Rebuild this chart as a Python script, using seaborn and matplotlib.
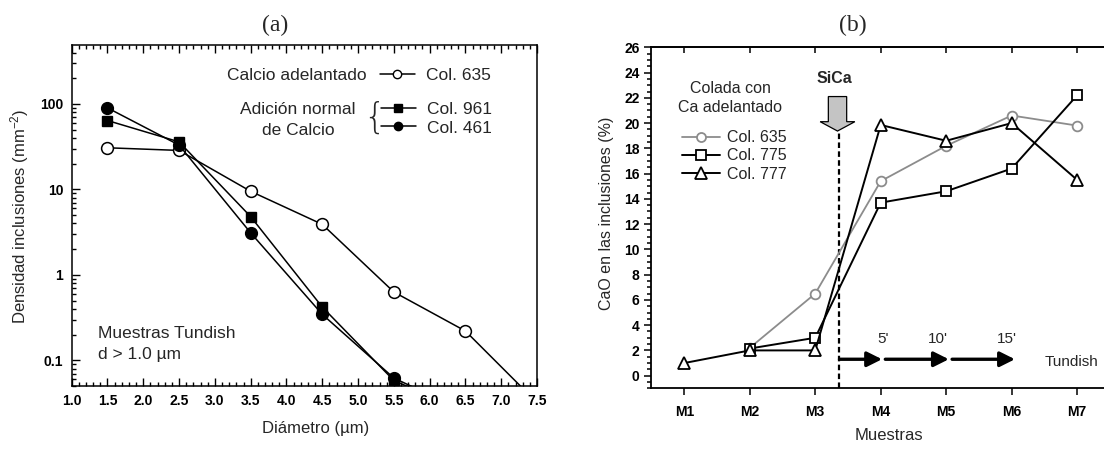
import matplotlib
matplotlib.use('Agg')
import matplotlib.pyplot as plt
import seaborn as sns
from matplotlib.patches import FancyArrow
from matplotlib.lines import Line2D
from matplotlib.ticker import MultipleLocator, FixedLocator, NullFormatter, FormatStrFormatter, LogLocator

# ---- data, panel (a): inclusion density vs diameter (log scale)
diam_635 = [1.5, 2.5, 3.5, 4.5, 5.5, 6.5, 7.5]
dens_635 = [30.7, 28.6, 9.5, 3.9, 0.63, 0.22, 0.032]
diam_normal = [1.5, 2.5, 3.5, 4.5, 5.5, 6.5]
dens_961 = [64, 36, 4.8, 0.42, 0.058, 0.025]
dens_461 = [90, 33, 3.1, 0.345, 0.062, 0.025]
dens_ticks = [0.1, 1, 10, 100]
dens_ticklabels = ['0.1', '1', '10', '100']

# ---- data, panel (b): CaO in inclusions per sample
muestras = ['M1', 'M2', 'M3', 'M4', 'M5', 'M6', 'M7']
pos_635 = [1, 2, 3, 4, 5, 6]
cao_635 = [2.2, 6.5, 15.4, 18.2, 20.6, 19.8]
pos_775 = [1, 2, 3, 4, 5, 6]
cao_775 = [2.15, 3.0, 13.7, 14.6, 16.4, 22.2]
pos_777 = [0, 1, 2, 3, 4, 5, 6]
cao_777 = [1.0, 2.0, 2.0, 19.85, 18.6, 20.0, 15.5]
tiempos = ["5'", "10'", "15'"]

sns.set_style('ticks')
plt.rcParams['font.family'] = ['Liberation Sans', 'DejaVu Sans']
plt.rcParams['mathtext.fontset'] = 'custom'
plt.rcParams['mathtext.rm'] = 'Liberation Sans'
plt.rcParams['mathtext.it'] = 'Liberation Sans'

W, H = 1104, 449
fig = plt.figure(figsize=(W / 100, H / 100), dpi=100)


def fp(x, y):
    # pixel position -> figure fraction
    return x / W, 1 - y / H


# ================= panel (a)
ax1 = fig.add_axes([71.7 / W, 1 - 386 / H, (537 - 71.7) / W, (386 - 45) / H])
ax1.set_yscale('log')
sns.lineplot(x=diam_635, y=dens_635, ax=ax1, color='black', lw=1.1, marker='o', ms=8.5,
             mfc='white', mec='black', mew=1.1, zorder=3)
sns.lineplot(x=diam_normal, y=dens_961, ax=ax1, color='black', lw=1.1, marker='s', ms=7.5,
             mfc='black', mec='black', mew=1.0, zorder=3)
sns.lineplot(x=diam_normal, y=dens_461, ax=ax1, color='black', lw=1.1, marker='o', ms=8.5,
             mfc='black', mec='black', mew=1.0, zorder=3)
ax1.set_xlim(1.0, 7.5)
ax1.set_ylim(0.05, 490)
ax1.xaxis.set_major_locator(MultipleLocator(0.5))
ax1.xaxis.set_minor_locator(MultipleLocator(0.1))
ax1.xaxis.set_major_formatter(FormatStrFormatter('%.1f'))
ax1.yaxis.set_major_locator(FixedLocator(dens_ticks))
ax1.set_yticklabels(dens_ticklabels)
ax1.yaxis.set_minor_locator(LogLocator(base=10, subs=range(2, 10)))
ax1.yaxis.set_minor_formatter(NullFormatter())
ax1.tick_params(which='both', direction='in', top=True, right=False, width=1, colors='black')
ax1.tick_params(which='major', length=6, labelsize=10, pad=6)
ax1.tick_params(which='minor', length=3)
for lab in ax1.get_xticklabels() + ax1.get_yticklabels():
    lab.set_fontweight('bold')
for sp in ax1.spines.values():
    sp.set_linewidth(1.1)
    sp.set_color('black')
ax1.set_xlabel('')
ax1.set_ylabel('')

fig.text(*fp(275, 25), '(a)', ha='center', va='center', fontsize=17, family='Liberation Serif')
fig.text(*fp(19.8, 216.7), r'Densidad inclusiones (mm$^{-2}$)', rotation=90, ha='center',
         va='center', fontsize=12)
fig.text(*fp(315.6, 429), 'Diámetro (µm)', ha='center', va='center', fontsize=12)
fig.text(*fp(98.5, 333), 'Muestras Tundish', ha='left', va='center', fontsize=12.5)
fig.text(*fp(98.5, 354), 'd > 1.0 µm', ha='left', va='center', fontsize=12.5)

fig.text(*fp(367, 75), 'Calcio adelantado', ha='right', va='center', fontsize=12.5)
fig.text(*fp(298, 110), 'Adición normal', ha='center', va='center', fontsize=12.5)
fig.text(*fp(298, 131), 'de Calcio', ha='center', va='center', fontsize=12.5)
fig.text(*fp(374, 118), '{', ha='center', va='center', fontsize=25, family='DejaVu Sans',
         fontweight='light')

h635 = Line2D([], [], color='black', lw=1.1, marker='o', ms=6, mfc='white', mec='black')
h961 = Line2D([], [], color='black', lw=1.1, marker='s', ms=5.5, mfc='black', mec='black')
h461 = Line2D([], [], color='black', lw=1.1, marker='o', ms=6, mfc='black', mec='black')
leg_kw = dict(frameon=False, fontsize=12.5, handlelength=2.0, handletextpad=0.65,
              borderpad=0, borderaxespad=0, loc='center left')
la = ax1.legend([h635], ['Col. 635'], bbox_to_anchor=fp(380, 75), bbox_transform=fig.transFigure,
                **leg_kw)
ax1.add_artist(la)
ax1.legend([h961, h461], ['Col. 961', 'Col. 461'], bbox_to_anchor=fp(381, 118.5),
           bbox_transform=fig.transFigure, labelspacing=0.22, **leg_kw)

# ================= panel (b)
ax2 = fig.add_axes([650.5 / W, 1 - 388.3 / H, 1 - 650.5 / W, (388.3 - 47.3) / H])
grey = '#8c8c8c'
sns.lineplot(x=pos_635, y=cao_635, ax=ax2, color=grey, lw=1.3, marker='o', ms=7,
             mfc='white', mec=grey, mew=1.3, zorder=3)
sns.lineplot(x=pos_775, y=cao_775, ax=ax2, color='black', lw=1.4, marker='s', ms=7.5,
             mfc='white', mec='black', mew=1.3, zorder=4)
sns.lineplot(x=pos_777, y=cao_777, ax=ax2, color='black', lw=1.4, marker='^', ms=9,
             mfc='white', mec='black', mew=1.3, zorder=5)
ax2.set_xlim(-0.516, 6.41)
ax2.set_ylim(-1, 26)
ax2.set_xticks(range(len(muestras)))
ax2.set_xticklabels(muestras)
ax2.yaxis.set_major_locator(MultipleLocator(2))
ax2.yaxis.set_minor_locator(MultipleLocator(0.5))
ax2.tick_params(which='both', direction='out', colors='black', width=1.1)
ax2.tick_params(which='major', length=5, labelsize=10, pad=3)
ax2.tick_params(axis='x', pad=7)
ax2.tick_params(which='minor', length=3)
for lab in ax2.get_xticklabels() + ax2.get_yticklabels():
    lab.set_fontweight('bold')
ax2.spines['right'].set_visible(False)
for sp in ax2.spines.values():
    sp.set_linewidth(1.3)
    sp.set_color('black')
top = ax2.secondary_xaxis('top')
top.set_xticks(range(len(muestras)))
top.tick_params(direction='in', length=4, width=1.1, labeltop=False, colors='black')
top.spines['top'].set_linewidth(1.3)
ax2.set_xlabel('')
ax2.set_ylabel('')

fig.text(*fp(853, 25), '(b)', ha='center', va='center', fontsize=17, family='Liberation Serif')
fig.text(*fp(606.5, 213), 'CaO en las inclusiones (%)', rotation=90, ha='center',
         va='center', fontsize=11.5)
fig.text(*fp(889, 436), 'Muestras', ha='center', va='center', fontsize=12)

# SiCa addition marker
sica_x = 2.37
ax2.plot([sica_x, sica_x], [-1, 19.3], color='black', lw=1.6, ls=(0, (2.5, 1.5)), zorder=2)
ax2.add_patch(FancyArrow(2.34, 22.1, 0, -2.73, width=0.28, head_width=0.53, head_length=0.74,
                         length_includes_head=True, facecolor='#c4c4c4', edgecolor='black',
                         lw=0.9, zorder=6))
ax2.text(2.29, 23.5, 'SiCa', ha='center', va='center', fontsize=11.5, fontweight='bold')

# tundish time arrows
arrow_spans = [(2.37, 3.02), (3.07, 4.04), (4.09, 5.05)]
label_x = [3.04, 3.88, 4.93]
for (x0, x1), lx, t in zip(arrow_spans, label_x, tiempos):
    ax2.annotate('', xy=(x1, 1.3), xytext=(x0, 1.3),
                 arrowprops=dict(arrowstyle='-|>,head_length=0.5,head_width=0.25',
                                 mutation_scale=18, lw=2.4, color='black',
                                 shrinkA=0, shrinkB=0))
    ax2.text(lx, 2.9, t, ha='center', va='center', fontsize=11)
ax2.text(5.92, 1.1, 'Tundish', ha='center', va='center', fontsize=11)

# legend panel (b)
ax2.text(0.70, 22.75, 'Colada con', ha='center', va='center', fontsize=11.5)
ax2.text(0.70, 21.2, 'Ca adelantado', ha='center', va='center', fontsize=11.5)
g635 = Line2D([], [], color=grey, lw=1.3, marker='o', ms=6.5, mfc='white', mec=grey, mew=1.3)
g775 = Line2D([], [], color='black', lw=1.4, marker='s', ms=7, mfc='white', mec='black', mew=1.3)
g777 = Line2D([], [], color='black', lw=1.4, marker='^', ms=8, mfc='white', mec='black', mew=1.3)
ax2.legend([g635, g775, g777], ['Col. 635', 'Col. 775', 'Col. 777'], frameon=False,
           fontsize=11.5, handlelength=2.4, handletextpad=0.45, labelspacing=0.2,
           borderpad=0, borderaxespad=0, loc='center left',
           bbox_to_anchor=fp(681.5, 156), bbox_transform=fig.transFigure)

fig.savefig('out.png', dpi=100)
